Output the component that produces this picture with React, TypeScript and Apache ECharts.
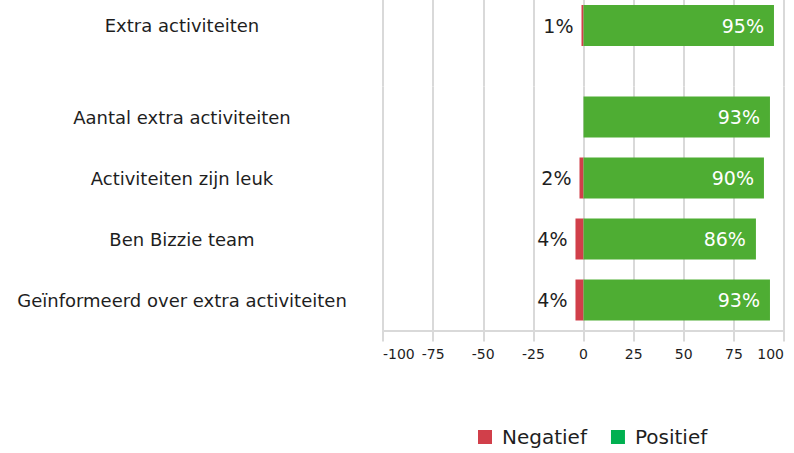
import React, { useEffect, useRef } from "react";
import * as echarts from "echarts";

const topCategories = ["Extra activiteiten"];
const topNegative = [-1];
const topPositive = [95];

const mainCategories = [
  "Aantal extra activiteiten",
  "Activiteiten zijn leuk",
  "Ben Bizzie team",
  "Geïnformeerd over extra activiteiten",
];
const mainNegative = [0, -2, -4, -4];
const mainPositive = [93, 90, 86, 93];

const seriesNames = ["Negatief", "Positief"];
const axisMin = -100;
const axisMax = 100;
const axisStep = 25;

const FONT = "DejaVu Sans";
const RED = "#d13f4a";
const GREEN = "#4ead33";
const LEGEND_GREEN = "#00b050";
const GRID_COLOR = "#d9d9d9";
const TEXT = "#1e1e1e";

export default function App() {
  const ref = useRef<HTMLDivElement>(null);

  useEffect(() => {
    if (!ref.current) return;
    const chart = echarts.init(ref.current, undefined, { renderer: "svg" });

    const xAxisBase = {
      type: "value",
      min: axisMin,
      max: axisMax,
      interval: axisStep,
      splitLine: { show: true, lineStyle: { color: GRID_COLOR, width: 2 } },
    };
    const yAxisBase = {
      type: "category",
      inverse: true,
      axisLine: { show: false },
      axisTick: { show: false },
      axisLabel: {
        align: "center",
        margin: 201,
        fontFamily: FONT,
        fontSize: 18,
        color: TEXT,
      },
    };

    const negLabel = {
      show: true,
      position: "left",
      distance: 8,
      fontFamily: FONT,
      fontSize: 19,
      color: TEXT,
      formatter: (p: any) => (p.value === 0 ? "" : `${Math.abs(p.value)}%`),
    };
    const posLabel = {
      show: true,
      position: "insideRight",
      distance: 10,
      fontFamily: FONT,
      fontSize: 19,
      color: "#ffffff",
      formatter: (p: any) => (p.value === 0 ? "" : `${p.value}%`),
    };

    chart.setOption({
      animation: false,
      backgroundColor: "#ffffff",
      grid: [
        { left: 383, right: 10, top: -35.5, height: 122, outerBoundsMode: "none" },
        { left: 383, right: 10, top: 86.5, height: 244, outerBoundsMode: "none" },
      ],
      xAxis: [
        {
          ...xAxisBase,
          gridIndex: 0,
          axisLine: { show: false },
          axisTick: { show: false },
          axisLabel: { show: false },
        },
        {
          ...xAxisBase,
          gridIndex: 1,
          axisLine: { show: true, lineStyle: { color: GRID_COLOR, width: 2 } },
          axisTick: {
            show: true,
            length: 11,
            lineStyle: { color: GRID_COLOR, width: 2 },
          },
          axisLabel: {
            margin: 16,
            fontFamily: FONT,
            fontSize: 14,
            color: TEXT,
            alignMinLabel: "left",
            alignMaxLabel: "right",
          },
        },
      ],
      yAxis: [
        { ...yAxisBase, gridIndex: 0, data: topCategories },
        { ...yAxisBase, gridIndex: 1, data: mainCategories },
      ],
      legend: {
        left: 478,
        top: 427,
        padding: 0,
        icon: "rect",
        itemWidth: 14,
        itemHeight: 14,
        itemGap: 24,
        textStyle: {
          fontFamily: FONT,
          fontSize: 20,
          color: TEXT,
          padding: [0, 0, 0, 5],
        },
        data: [
          { name: seriesNames[0], itemStyle: { color: RED } },
          { name: seriesNames[1], itemStyle: { color: LEGEND_GREEN } },
        ],
      },
      series: [
        {
          name: seriesNames[0],
          type: "bar",
          xAxisIndex: 0,
          yAxisIndex: 0,
          stack: "top",
          barWidth: 41,
          itemStyle: { color: RED },
          label: negLabel,
          data: topNegative,
        },
        {
          name: seriesNames[1],
          type: "bar",
          xAxisIndex: 0,
          yAxisIndex: 0,
          stack: "top",
          barWidth: 41,
          itemStyle: { color: GREEN },
          label: posLabel,
          data: topPositive,
        },
        {
          name: seriesNames[0],
          type: "bar",
          xAxisIndex: 1,
          yAxisIndex: 1,
          stack: "main",
          barWidth: 41,
          itemStyle: { color: RED },
          label: negLabel,
          data: mainNegative,
        },
        {
          name: seriesNames[1],
          type: "bar",
          xAxisIndex: 1,
          yAxisIndex: 1,
          stack: "main",
          barWidth: 41,
          itemStyle: { color: GREEN },
          label: posLabel,
          data: mainPositive,
        },
      ],
    });

    return () => chart.dispose();
  }, []);

  return (
    <div
      ref={ref}
      style={{ position: "fixed", left: 0, top: 0, width: 794, height: 453 }}
    />
  );
}
